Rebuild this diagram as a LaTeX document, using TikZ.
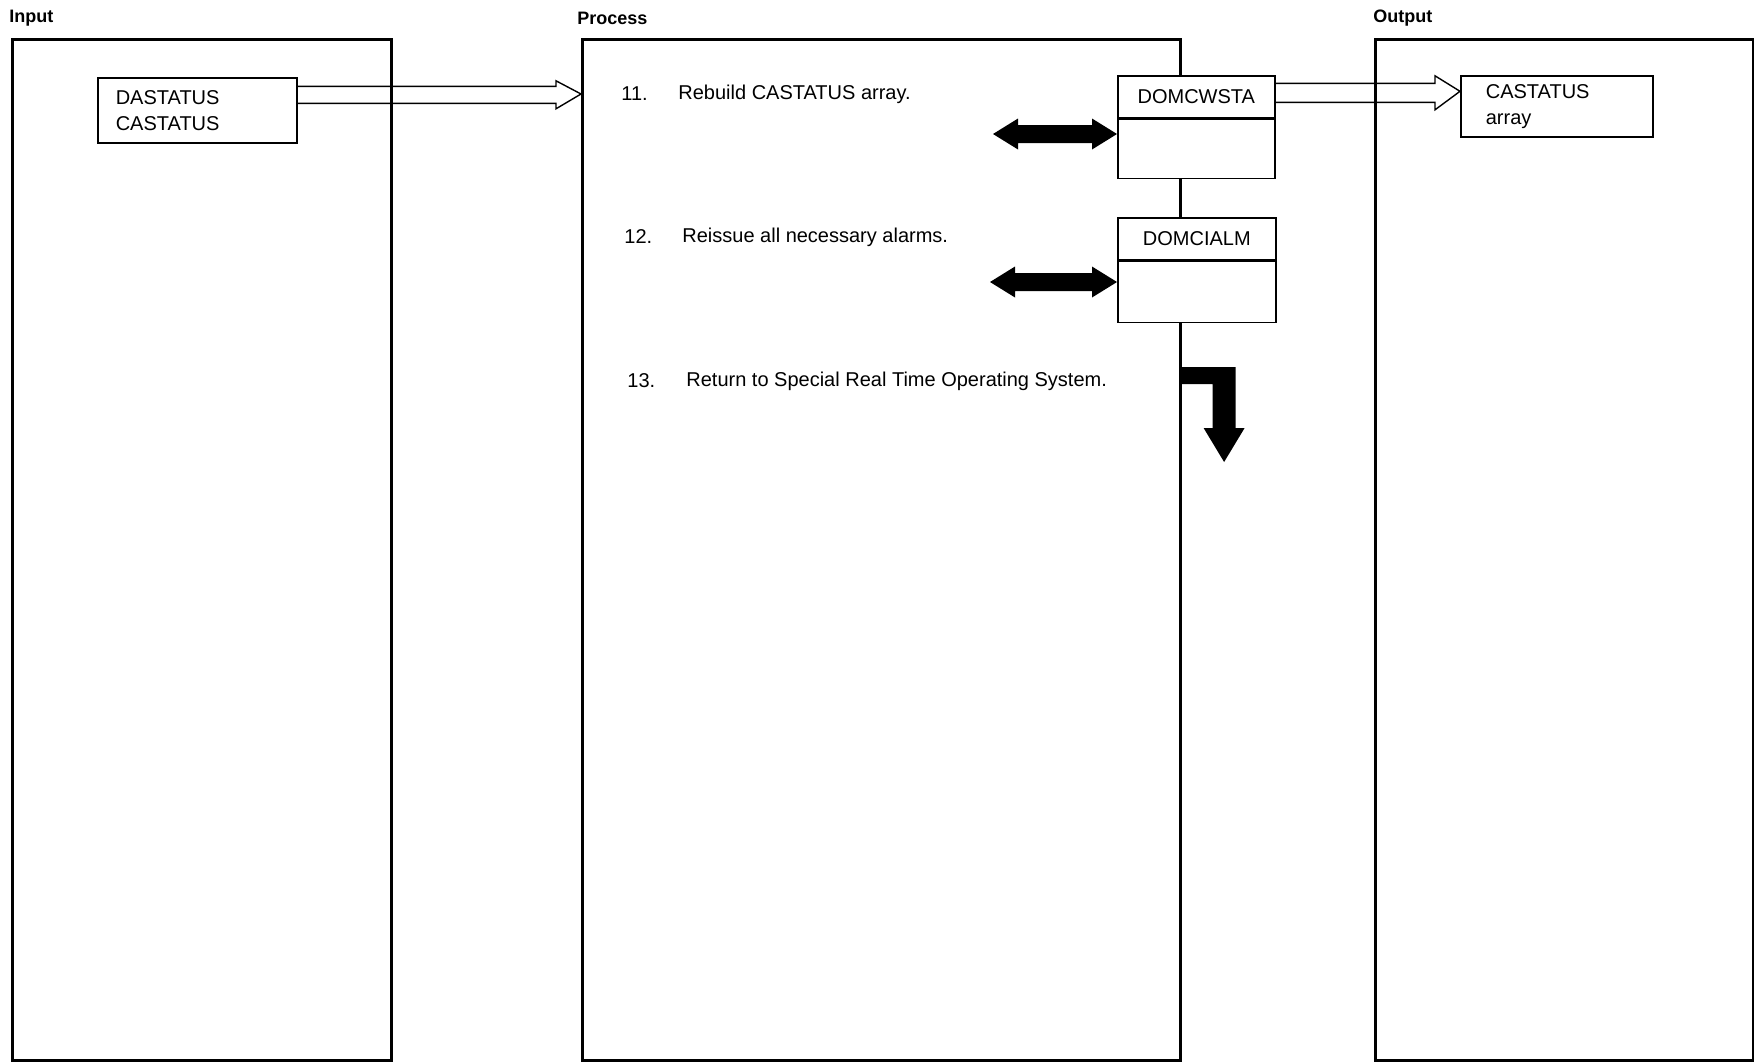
\documentclass[tikz,border=0pt]{standalone}
\usepackage{fontspec}
\setmainfont{Liberation Sans}
\usepackage{tikz}
\usetikzlibrary{positioning, calc}

% open (outlined) data-flow arrow from #1 to #2, half shaft #3, half head #4
\newcommand{\hollowarrow}[4]{%
  \draw[line width=0.7pt] let \p1=(#1), \p2=(#2) in
    (\x1,\y1+#3) -- (\x2-12.5pt,\y1+#3) -- (\x2-12.5pt,\y1+#4) -- (\x2,\y2)
    -- (\x2-12.5pt,\y1-#4) -- (\x2-12.5pt,\y1-#3) -- (\x1,\y1-#3);}

% solid two-headed arrow from #1 to #2
\newcommand{\fatdouble}[2]{%
  \fill let \p1=(#1), \p2=(#2) in
    (\x1,\y1) -- (\x1+12.5pt,\y1+7.75pt) -- (\x1+12.5pt,\y1+4.5pt)
    -- (\x2-12.5pt,\y1+4.5pt) -- (\x2-12.5pt,\y1+7.75pt) -- (\x2,\y2)
    -- (\x2-12.5pt,\y1-7.75pt) -- (\x2-12.5pt,\y1-4.5pt)
    -- (\x1+12.5pt,\y1-4.5pt) -- (\x1+12.5pt,\y1-7.75pt) -- cycle;}

\begin{document}
\begin{tikzpicture}[x=0.5pt, y=-0.5pt,
    every node/.style={inner sep=0pt},
    panel/.style={draw, line width=1.3pt, anchor=north west, minimum width=#1, minimum height=510.5pt},
    lbl/.style={anchor=west, font=\bfseries\fontsize{9}{10}\selectfont},
    databox/.style={draw, line width=0.8pt, fill=white, anchor=north west, align=left,
                    font=\fontsize{10}{13}\selectfont},
    modhead/.style={draw, line width=0.8pt, fill=white, anchor=north west, minimum width=78.5pt,
                    minimum height=21pt, font=\fontsize{10}{12}\selectfont},
    modbody/.style={draw, line width=0.8pt, fill=white, minimum width=78.5pt, minimum height=#1},
    stepnum/.style={anchor=west, font=\fontsize{10}{12}\selectfont},
    steptxt/.style={anchor=west, font=\fontsize{10}{12}\selectfont}]
    \useasboundingbox (0,0) rectangle (1754,1061);

    % Column headings and frames
    \node[lbl] (inlbl) at (9,18) {Input};
    \node[lbl] (proclbl) at (577,18) {Process};
    \node[lbl] (outlbl) at (1373,18) {Output};
    \node[panel=189.5pt] (inpanel) at (11,38) {};
    \node[panel=299pt] (procpanel) at (581,38) {};
    \node[panel=189pt] (outpanel) at (1374,38) {};

    % Input data
    \node[databox, minimum height=32.5pt, text width=81.5pt, inner xsep=9pt] (dabox) at (97,77)
        {DASTATUS\\CASTATUS};

    % Steps
    \node[stepnum] (n11) at (621,94) {11.};
    \node[steptxt] (s11) at (678,94) {Rebuild CASTATUS array.};
    \node[stepnum] (n12) at (624,237) {12.};
    \node[steptxt] (s12) at (682,237) {Reissue all necessary alarms.};
    \node[stepnum] (n13) at (627,381) {13.};
    \node[steptxt] (s13) at (686,381) {Return to Special Real Time Operating System.};

    % Called modules
    \node[modhead] (cwshead) at (1117,75) {DOMCWSTA};
    \node[modbody=29.5pt, below=0pt of cwshead] (cwsbody) {};
    \node[modhead, minimum width=79pt] (ciahead) at (1117,217) {DOMCIALM};
    \node[modbody=30.5pt, minimum width=79pt, below=0pt of ciahead] (ciabody) {};

    % Output data
    \node[databox, minimum height=30.5pt, text width=71pt, inner xsep=12.5pt] (castbox) at (1460,75)
        {CASTATUS\\array};

    % Data flow
    \hollowarrow{$(dabox.east)+(0,-15.5)$}{procpanel.west |- 0,94}{4.25pt}{7pt}
    \hollowarrow{$(cwshead.east)+(0,-4)$}{$(castbox.west)+(0,-15)$}{4.75pt}{8.5pt}

    % Module calls
    \coordinate (cl1) at (993,134);
    \coordinate (cl2) at (990,282);
    \fatdouble{cl1}{cwsbody.west |- cl1}
    \fatdouble{cl2}{ciabody.west |- cl2}

    % Return
    \coordinate (ret) at ($(procpanel.north east)+(0,329)$);
    \fill (ret) -- ++(54,0) -- ++(0,61) -- ++(9,0) -- ++(-20.5,34) -- ++(-20.5,-34)
        -- ++(9,0) -- ++(0,-44) -- ++(-31,0) -- cycle;
\end{tikzpicture}
\end{document}
